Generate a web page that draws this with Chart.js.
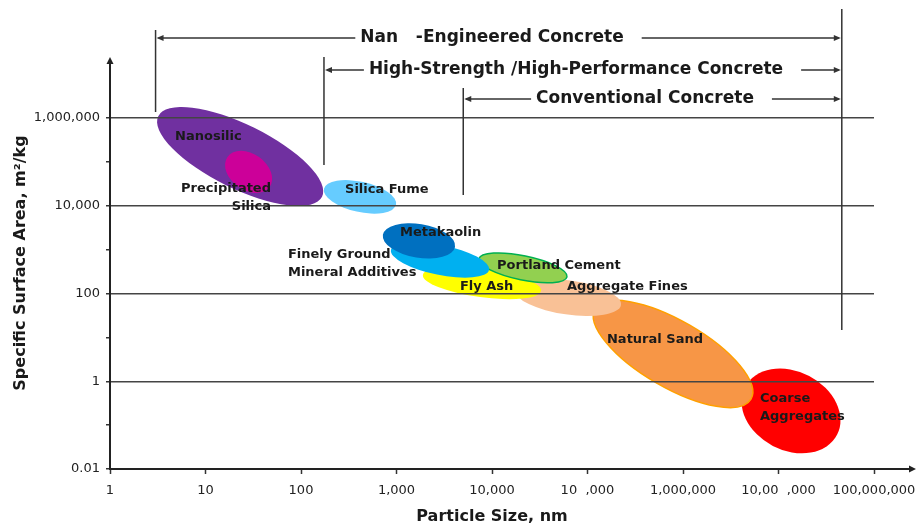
<!DOCTYPE html>
<html><head><meta charset="utf-8">
<script src="https://cdn.jsdelivr.net/npm/chart.js@4.4.1/dist/chart.umd.min.js"></script>
<style>html,body{margin:0;padding:0;background:#fff}#wrap{width:917px;height:529px}</style>
</head><body><div id="wrap"><canvas id="c" width="917" height="529"></canvas></div>
<script>
// ---- data (particle size in nm, specific surface area in m2/kg) ----
const materials = ['Coarse Aggregates','Natural Sand','Aggregate Fines','Fly Ash','Portland Cement',
  'Finely Ground Mineral Additives','Metakaolin','Nanosilic','Precipitated Silica','Silica Fume'];
// major-axis end points of each region (size, area)
const sizeFrom = [4.46e6, 1.2e5, 1.74e4, 1890, 7300, 875, 720, 3.2, 17, 174];
const areaFrom = [0.74, 44.6, 121, 265, 615, 986, 2170, 1.1e6, 1.3e5, 24300];
const sizeTo   = [4.1e7, 5.15e6, 2.24e5, 3.26e4, 6.1e4, 9300, 4100, 166, 47, 988];
const areaTo   = [0.06, 0.39, 55, 115, 239, 345, 1155, 1.6e4, 2.7e4, 10470];
const shapeRatio = [0.76, 0.37, 0.32, 0.24, 0.27, 0.30, 0.46, 0.35, 0.70, 0.41];
const fillColors = ['#FF0000','#F79646','#F9C196','#FFFF00','#92D050','#00B0F0','#0070C0','#7030A0','#CC0099','#66CCFF'];
const edgeColors = [null,'#FFA000',null,null,'#00B050',null,null,null,null,null];

// region labels: text lines, anchor (size, area), alignment
const labelLines = [['Coarse','Aggregates'],['Natural Sand'],['Aggregate Fines'],['Fly Ash'],['Portland Cement'],
  ['Finely Ground','Mineral Additives'],['Metakaolin'],['Nanosilic'],['Precipitated','Silica'],['Silica Fume']];
const labelSize = [6.4e6, 1.6e5, 6.1e4, 4620, 11300, 73, 1088, 4.8, 48.5, 289];
const labelArea = [0.394, 8.75, 141, 141, 426, 759, 2410, 3.7e5, 24300, 23000];
const labelAlign = ['left','left','left','left','left','left','left','left','right','left'];

// concrete classes: size range (nm)
const concreteClasses = ['Nan   -Engineered Concrete','High-Strength /High-Performance Concrete','Conventional Concrete'];
const classFrom = [3, 174, 5000];
const classTo = [4.6e7, 4.6e7, 4.6e7];

// axis ticks
const xTickValues = [1,10,100,1e3,1e4,1e5,1e6,1e7,1e8];
const xTickLabels = ['1','10','100','1,000','10,000','10  ,000','1,000,000','10,00  ,000','100,000,000'];
const yTickValues = [0.01,0.1,1,10,100,1e3,1e4,1e5,1e6];
const yTickLabels = ['0.01','','1','','100','','10,000','','1,000,000'];
const yTitle = 'Specific Surface Area, m²/kg';

const FONT = '"DejaVu Sans", sans-serif';
const INK = '#1a1a1a';

function arrowHead(ctx, x, y, dir, len, half) {
  ctx.beginPath();
  if (dir === 'left') { ctx.moveTo(x, y); ctx.lineTo(x+len, y-half); ctx.lineTo(x+len, y+half); }
  else if (dir === 'right') { ctx.moveTo(x, y); ctx.lineTo(x-len, y-half); ctx.lineTo(x-len, y+half); }
  else if (dir === 'up') { ctx.moveTo(x, y); ctx.lineTo(x-half, y+len); ctx.lineTo(x+half, y+len); }
  ctx.closePath(); ctx.fill();
}

const overlay = {
  id: 'overlay',
  beforeDraw(chart) {
    const {ctx} = chart; const xs = chart.scales.x, ys = chart.scales.y;
    ctx.save();
    for (let i = 0; i < materials.length; i++) {
      const x1 = xs.getPixelForValue(sizeFrom[i]), y1 = ys.getPixelForValue(areaFrom[i]);
      const x2 = xs.getPixelForValue(sizeTo[i]), y2 = ys.getPixelForValue(areaTo[i]);
      const a = Math.hypot(x2-x1, y2-y1)/2, b = a*shapeRatio[i];
      ctx.beginPath();
      ctx.ellipse((x1+x2)/2, (y1+y2)/2, a, b, Math.atan2(y2-y1, x2-x1), 0, Math.PI*2);
      ctx.fillStyle = fillColors[i]; ctx.fill();
      if (edgeColors[i]) { ctx.lineWidth = 1.5; ctx.strokeStyle = edgeColors[i]; ctx.stroke(); }
    }
    ctx.restore();
  },
  afterDraw(chart) {
    const {ctx, chartArea} = chart; const xs = chart.scales.x, ys = chart.scales.y;
    ctx.save();
    // region labels
    ctx.font = 'bold 13px ' + FONT; ctx.fillStyle = INK; ctx.textBaseline = 'middle';
    for (let i = 0; i < labelLines.length; i++) {
      const px = xs.getPixelForValue(labelSize[i]), py = ys.getPixelForValue(labelArea[i]);
      ctx.textAlign = labelAlign[i];
      labelLines[i].forEach((t, k) => ctx.fillText(t, px, py + k*18));
    }
    // axis extensions with arrows
    ctx.strokeStyle = '#222'; ctx.fillStyle = '#222'; ctx.lineWidth = 2;
    ctx.beginPath(); ctx.moveTo(chartArea.left, chartArea.top); ctx.lineTo(chartArea.left, 62); ctx.stroke();
    arrowHead(ctx, chartArea.left, 57, 'up', 7, 3.5);
    ctx.beginPath(); ctx.moveTo(chartArea.right, chartArea.bottom); ctx.lineTo(911, chartArea.bottom); ctx.stroke();
    arrowHead(ctx, 916, chartArea.bottom, 'right', 7, 3.5);
    // y axis title, centred on the full axis including the arrow
    ctx.save();
    ctx.translate(21, (57 + chartArea.bottom) / 2); ctx.rotate(-Math.PI/2);
    ctx.font = 'bold 16px ' + FONT; ctx.fillStyle = INK; ctx.textAlign = 'center'; ctx.textBaseline = 'middle';
    ctx.fillText(yTitle, 0, 0);
    ctx.restore();
    // concrete class ranges
    const rowY = [38, 70, 99];
    const vTop = [30, 57, 88], vBot = [112, 165, 195];
    const centerX = [492, 576, 645];
    ctx.lineWidth = 1.5; ctx.strokeStyle = '#333'; ctx.fillStyle = '#333';
    const right = xs.getPixelForValue(classTo[0]);
    ctx.beginPath(); ctx.moveTo(right, 9); ctx.lineTo(right, 330); ctx.stroke();
    ctx.font = 'bold 17px ' + FONT; ctx.textBaseline = 'middle'; ctx.textAlign = 'center';
    for (let i = 0; i < concreteClasses.length; i++) {
      const l = xs.getPixelForValue(classFrom[i]), r = xs.getPixelForValue(classTo[i]);
      ctx.strokeStyle = '#333'; ctx.fillStyle = '#333';
      ctx.beginPath(); ctx.moveTo(l, vTop[i]); ctx.lineTo(l, vBot[i]); ctx.stroke();
      const w = ctx.measureText(concreteClasses[i]).width;
      const ts = centerX[i] - w/2, te = centerX[i] + w/2;
      ctx.beginPath(); ctx.moveTo(l+3, rowY[i]); ctx.lineTo(ts-5, rowY[i]); ctx.stroke();
      arrowHead(ctx, l+1, rowY[i], 'left', 7, 3);
      ctx.beginPath(); ctx.moveTo(te+18, rowY[i]); ctx.lineTo(r-3, rowY[i]); ctx.stroke();
      arrowHead(ctx, r-1, rowY[i], 'right', 7, 3);
      ctx.fillStyle = INK;
      ctx.fillText(concreteClasses[i], centerX[i], rowY[i]);
    }
    ctx.restore();
  }
};

new Chart(document.getElementById('c'), {
  type: 'scatter',
  data: { datasets: [] },
  options: {
    responsive: false, animation: false, devicePixelRatio: 1,
    layout: { padding: { top: 118, right: 43, left: 0, bottom: 0 } },
    plugins: { legend: { display: false }, tooltip: { enabled: false } },
    scales: {
      x: {
        type: 'logarithmic', min: 1, max: 1e8,
        afterBuildTicks: s => { s.ticks = xTickValues.map(v => ({ value: v })); },
        afterFit: s => { s.height = 60; s.paddingLeft = 0; s.paddingRight = 0; },
        ticks: { autoSkip: false, maxRotation: 0, padding: 9, color: '#222',
          font: { family: FONT, size: 13 }, callback: (v, i) => xTickLabels[i] },
        grid: { drawOnChartArea: false, drawTicks: true, tickLength: 5, tickColor: '#333', tickWidth: 1.5 },
        border: { display: true, color: '#222', width: 2 },
        title: { display: true, text: 'Particle Size, nm', color: INK,
          font: { family: FONT, size: 16, weight: 'bold' }, padding: { top: 0, bottom: 3 } }
      },
      y: {
        type: 'logarithmic', min: 0.01, max: 1e6,
        afterBuildTicks: s => { s.ticks = yTickValues.map(v => ({ value: v })); },
        afterFit: s => { s.width = 110; s.paddingTop = 0; s.paddingBottom = 0; },
        ticks: { autoSkip: false, padding: 6, color: '#222',
          font: { family: FONT, size: 13 }, callback: (v, i) => yTickLabels[i] },
        grid: {
          color: c => (c.index > 0 && yTickLabels[c.index]) ? '#444' : 'rgba(0,0,0,0)',
          lineWidth: 1.5, drawTicks: true, tickLength: 4, tickColor: '#333', tickWidth: 1.5
        },
        border: { display: true, color: '#222', width: 2 },
        title: { display: false }
      }
    }
  },
  plugins: [overlay]
});
</script>
</body></html>
